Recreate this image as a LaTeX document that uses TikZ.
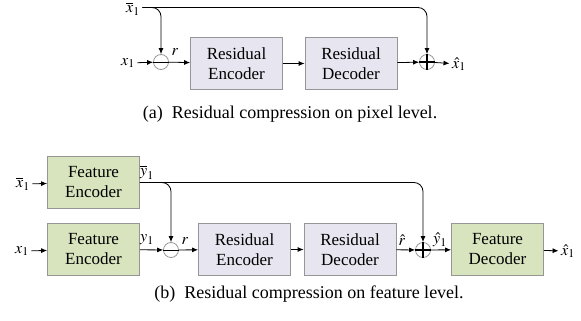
\documentclass[tikz,border=0pt]{standalone}
\usepackage{mathptmx}
\usepackage[no-math]{fontspec}
\setmainfont{Liberation Serif}
\usepackage{amsmath}
\usepackage{tikz}
\usetikzlibrary{arrows.meta}

\definecolor{resfill}{RGB}{231,229,239}
\definecolor{featfill}{RGB}{215,228,190}
\definecolor{boxline}{RGB}{150,150,150}

\tikzset{
  resbox/.style={draw=boxline, line width=0.8pt, fill=resfill, minimum width=92pt, minimum height=52pt,
    align=center, inner sep=0pt, font=\fontsize{17}{20}\selectfont},
  featbox/.style={resbox, fill=featfill},
  junction/.style={circle, draw=boxline, line width=0.8pt, minimum size=15pt, inner sep=0pt},
  lbl/.style={font=\fontsize{16}{19}\selectfont, inner sep=2.5pt},
  flow/.style={-{Latex[length=6pt,width=5pt]}, black, line width=0.8pt},
  caption/.style={font=\fontsize{18}{21}\selectfont},
}

\begin{document}
\begin{tikzpicture}[x=1pt,y=-1pt]
\useasboundingbox (0,0) rectangle (581,321);

% (a) pixel level
 \path (133,9) node(xbarA)[lbl]{$\overline{x}_1$};
 \path (128,63) node(xA)[lbl]{$x_1$};
 \path (161,62) node(minusA)[junction]{};
 \path (175,52) node(rA)[lbl]{$r$};
 \path (236.5,63.5) node(encA)[resbox]{Residual\\Encoder};
 \path (351,63.5) node(decA)[resbox]{Residual\\Decoder};
 \path (427,62) node(plusA)[junction]{};
 \path (459,64) node(xhatA)[lbl]{$\hat{x}_1$};
 \draw[black, line width=0.8pt] (minusA.west) -- (minusA.east);
 \draw[black, line width=1.8pt] (plusA.west) -- (plusA.east) (plusA.north) -- (plusA.south);
 \draw[flow] (xA) -- (minusA);
 \draw[flow] (minusA) -- (encA);
 \draw[flow] (encA) -- (decA);
 \draw[flow] (decA) -- (plusA);
 \draw[flow] (plusA) -- (xhatA);
 \draw[flow, rounded corners=9pt] (xbarA.east |- 0,7.5) -| (minusA.north);
 \draw[flow, rounded corners=9pt] (xbarA.east |- 0,7.5) -| (plusA.north);
 \path (290,114) node(capA)[caption]{(a)\enspace Residual compression on pixel level.};

% (b) feature level
 \path (23,184) node(xbarB)[lbl]{$\overline{x}_1$};
 \path (93.5,182.5) node(fencB)[featbox]{Feature\\Encoder};
 \path (147,172) node(ybarB)[lbl]{$\overline{y}_1$};
 \path (22,251) node(xB)[lbl]{$x_1$};
 \path (93.5,249.5) node(fencC)[featbox]{Feature\\Encoder};
 \path (147,240) node(yB)[lbl]{$y_1$};
 \path (171,250) node(minusB)[junction]{};
 \path (185,241) node(rB)[lbl]{$r$};
 \path (244.5,249.5) node(encB)[resbox]{Residual\\Encoder};
 \path (350,249.5) node(decB)[resbox]{Residual\\Decoder};
 \path (402,240) node(rhatB)[lbl]{$\hat{r}$};
 \path (423,250) node(plusB)[junction]{};
 \path (440,240) node(yhatB)[lbl]{$\hat{y}_1$};
 \path (497.5,249.5) node(fdecB)[featbox]{Feature\\Decoder};
 \path (568,251) node(xhatB)[lbl]{$\hat{x}_1$};
 \draw[black, line width=0.8pt] (minusB.west) -- (minusB.east);
 \draw[black, line width=1.8pt] (plusB.west) -- (plusB.east) (plusB.north) -- (plusB.south);
 \draw[flow] (xbarB) -- (fencB);
 \draw[flow] (xB) -- (fencC);
 \draw[flow] (fencC) -- (minusB);
 \draw[flow] (minusB) -- (encB);
 \draw[flow] (encB) -- (decB);
 \draw[flow] (decB) -- (plusB);
 \draw[flow] (plusB) -- (fdecB);
 \draw[flow] (fdecB) -- (xhatB);
 \draw[flow, rounded corners=9pt] (fencB.east) -| (minusB.north);
 \draw[flow, rounded corners=9pt] (fencB.east) -| (plusB.north);
 \path (309,294) node(capB)[caption]{(b)\enspace Residual compression on feature level.};
\end{tikzpicture}
\end{document}
